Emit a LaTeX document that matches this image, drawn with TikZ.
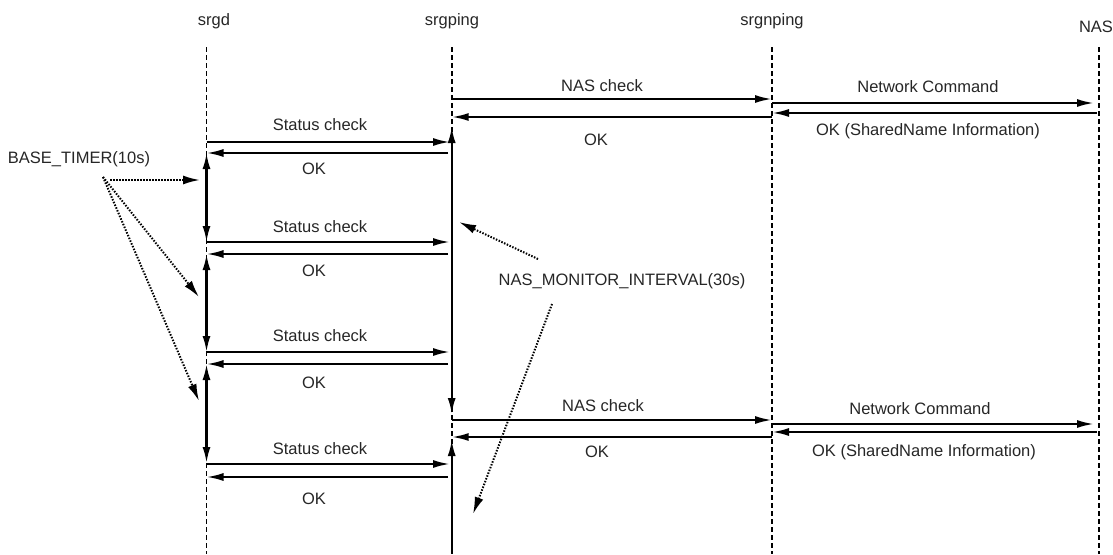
\documentclass[tikz,border=0pt]{standalone}
\usepackage{fontspec}
\setmainfont{Liberation Sans}
\usetikzlibrary{arrows.meta}
\begin{document}
\begin{tikzpicture}[x=1pt,y=-1pt,
  lbl/.style={anchor=base,inner sep=0pt,font=\fontsize{16.5}{18}\selectfont,text=black!85},
  life/.style={line width=1.6pt,dash pattern=on 5pt off 3pt},
  msg/.style={line width=2.2pt,-{Latex[length=17pt,width=8pt]}},
  timer/.style={line width=2.2pt,{Latex[length=16pt,width=8pt]}-{Latex[length=16pt,width=8pt]}},
  timerup/.style={line width=2.2pt,{Latex[length=16pt,width=8pt]}-},
  note/.style={line width=2pt,dash pattern=on 1.5pt off 1.5pt,-{Latex[length=17pt,width=9pt]}}]
\useasboundingbox (0,0) rectangle (1113,554);
% headers
\node[lbl] (hd) at (214,25) {srgd};
\node[lbl] (hp) at (452,25) {srgping};
\node[lbl] (hn) at (772,25) {srgnping};
\node[lbl] (hs) at (1096,32) {NAS};
% lifelines
\def\xd{206.5}\def\xp{451.7}\def\xn{772}\def\xs{1099}
\coordinate (dT) at (\xd,47); \coordinate (dB) at (\xd,554);
\coordinate (pT) at (\xp,47); \coordinate (pB) at (\xp,554);
\coordinate (nT) at (\xn,47); \coordinate (nB) at (\xn,554);
\coordinate (sT) at (\xs,47); \coordinate (sB) at (\xs,554);
\draw[life] (dT) -- (dB);
\draw[life] (pT) -- (pB);
\draw[life] (nT) -- (nB);
\draw[life] (sT) -- (sB);
% srgd <-> srgping
\foreach \i/\ys/\yo in {1/142/153,2/242/254,3/352/364,4/464/477}{
  \coordinate (sc\i a) at (\xd,\ys); \coordinate (sc\i b) at (450,\ys);
  \coordinate (ok\i a) at (448,\yo); \coordinate (ok\i b) at (\xd,\yo);
  \draw[msg] (sc\i a) -- (sc\i b);
  \draw[msg] (ok\i a) -- (ok\i b);
}
\node[lbl] (lsc1) at (320,130) {Status check};
\node[lbl] (lok1) at (314,174) {OK};
\node[lbl] (lsc2) at (320,232) {Status check};
\node[lbl] (lok2) at (314,276) {OK};
\node[lbl] (lsc3) at (320,341) {Status check};
\node[lbl] (lok3) at (314,388) {OK};
\node[lbl] (lsc4) at (320,454) {Status check};
\node[lbl] (lok4) at (314,504) {OK};
% timers on srgd
\coordinate (t1a) at (\xd,153); \coordinate (t1b) at (\xd,242);
\coordinate (t2a) at (\xd,254); \coordinate (t2b) at (\xd,352);
\coordinate (t3a) at (\xd,364); \coordinate (t3b) at (\xd,463);
\draw[timer] (t1a) -- (t1b);
\draw[timer] (t2a) -- (t2b);
\draw[timer] (t3a) -- (t3b);
% timers on srgping
\coordinate (u1a) at (\xp,127); \coordinate (u1b) at (\xp,414);
\coordinate (u2a) at (\xp,440); \coordinate (u2b) at (\xp,554);
\draw[timer] (u1a) -- (u1b);
\draw[timerup] (u2a) -- (u2b);
% NAS group 1
\coordinate (na1a) at (\xp,99); \coordinate (na1b) at (\xn,99);
\coordinate (no1a) at (\xn,117); \coordinate (no1b) at (\xp,117);
\coordinate (nc1a) at (\xn,103); \coordinate (nc1b) at (1094,103);
\coordinate (ns1a) at (1097,113); \coordinate (ns1b) at (\xn,113);
\draw[msg] (na1a) -- (na1b);
\draw[msg] (no1a) -- (no1b);
\draw[msg] (nc1a) -- (nc1b);
\draw[msg] (ns1a) -- (ns1b);
\node[lbl] (lna1) at (602,91) {NAS check};
\node[lbl] (lno1) at (596,145) {OK};
\node[lbl] (lnc1) at (928,92) {Network Command};
\node[lbl] (lns1) at (928,135) {OK (SharedName Information)};
% NAS group 2
\coordinate (na2a) at (\xp,420); \coordinate (na2b) at (\xn,420);
\coordinate (no2a) at (\xn,437); \coordinate (no2b) at (\xp,437);
\coordinate (nc2a) at (\xn,424); \coordinate (nc2b) at (1094,424);
\coordinate (ns2a) at (1097,432); \coordinate (ns2b) at (\xn,432);
\draw[msg] (na2a) -- (na2b);
\draw[msg] (no2a) -- (no2b);
\draw[msg] (nc2a) -- (nc2b);
\draw[msg] (ns2a) -- (ns2b);
\node[lbl] (lna2) at (603,411) {NAS check};
\node[lbl] (lno2) at (597,457) {OK};
\node[lbl] (lnc2) at (920,414) {Network Command};
\node[lbl] (lns2) at (924,456) {OK (SharedName Information)};
% BASE_TIMER annotation
\node[lbl] (bt) at (79,163) {BASE\_TIMER(10s)};
\coordinate (bt0) at (103,177);
\coordinate (bth) at (110,180);
\coordinate (btt1) at (200,180);
\coordinate (btt2) at (199,297);
\coordinate (btt3) at (199,401);
\draw[note] (bth) -- (btt1);
\draw[note] (bt0) -- (btt2);
\draw[note] (bt0) -- (btt3);
% NAS_MONITOR annotation
\node[lbl] (nm) at (622,285) {NAS\_MONITOR\_INTERVAL(30s)};
\coordinate (nm1) at (538,259); \coordinate (nm1t) at (459,222);
\coordinate (nm2) at (552,304); \coordinate (nm2t) at (473,514);
\draw[note] (nm1) -- (nm1t);
\draw[note] (nm2) -- (nm2t);
\end{tikzpicture}
\end{document}
